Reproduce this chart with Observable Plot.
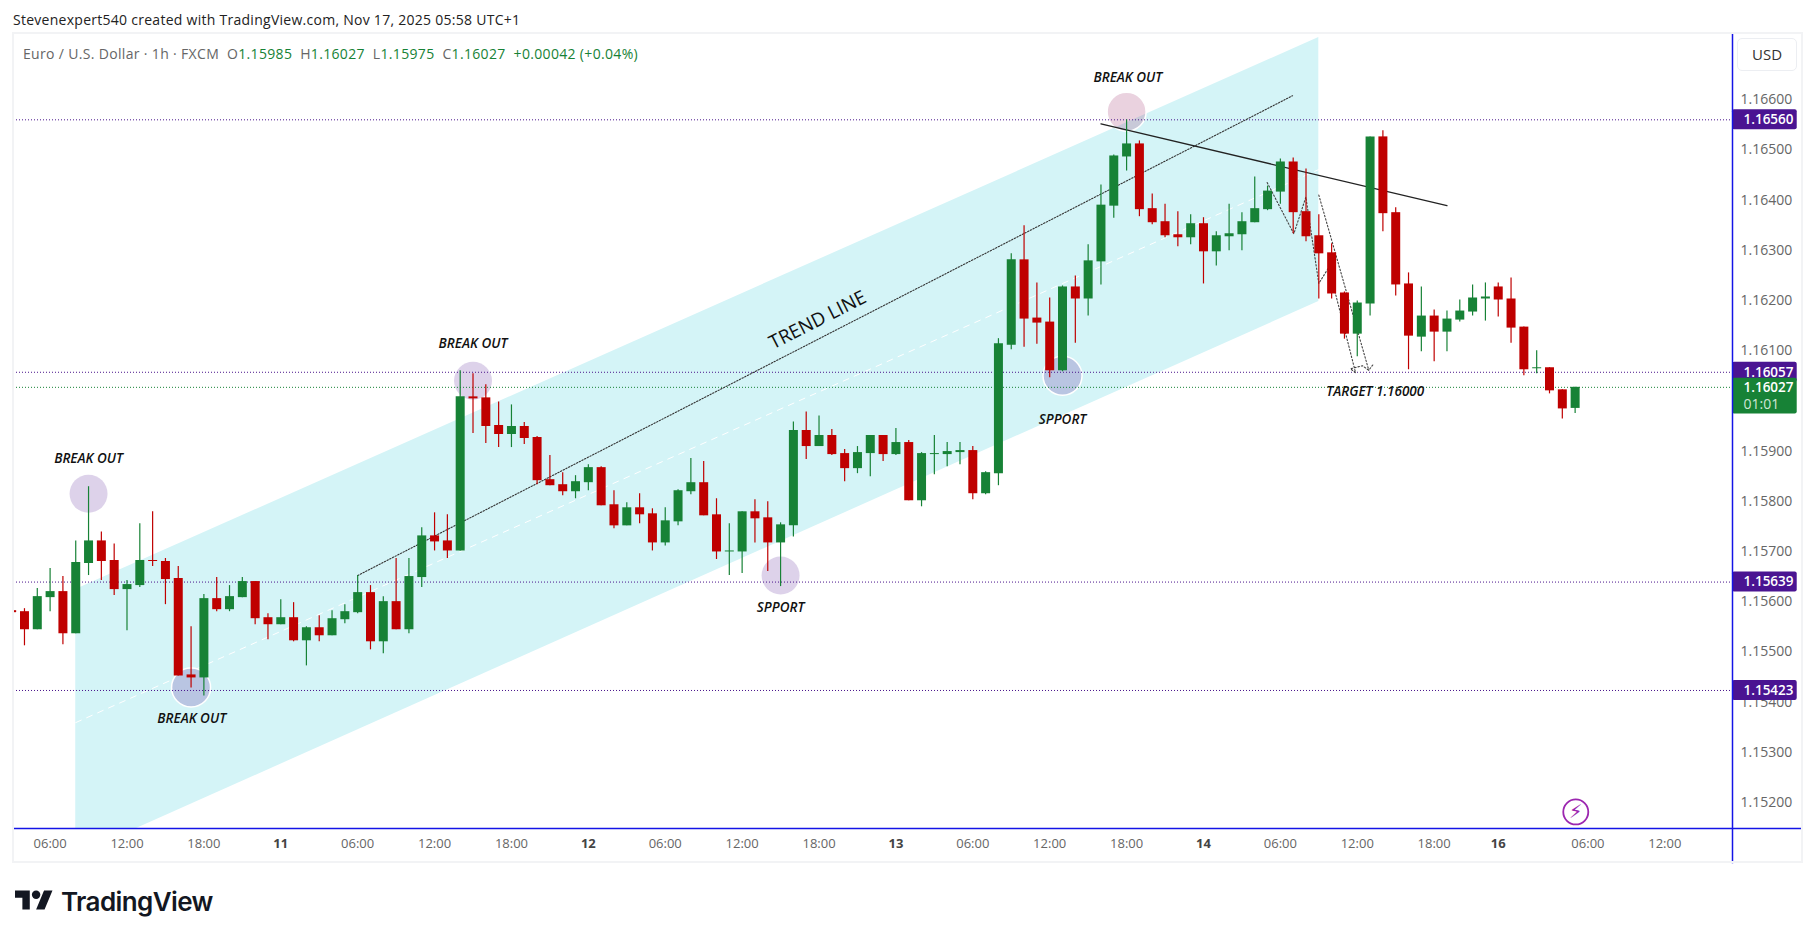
<!DOCTYPE html>
<html>
<head>
<meta charset="utf-8">
<script src="https://cdn.jsdelivr.net/npm/d3@7"></script>
<script src="https://cdn.jsdelivr.net/npm/@observablehq/plot@0.6"></script>
<style>
html,body{margin:0;padding:0;background:#fff;width:1815px;height:938px;overflow:hidden;font-family:"Open Sans",sans-serif}
#head{height:33px;position:relative}
#credit{position:absolute;left:13px;top:10px;font-size:14px;letter-spacing:.27px;color:#222;white-space:nowrap}
#legend{position:absolute;left:23px;top:44px;font-size:14px;letter-spacing:.33px;color:#666;white-space:pre;z-index:3}
#legend b{font-weight:400;color:#178236}
#frame{position:absolute;left:12px;top:32px;width:1787px;height:827px;border:2px solid #f2f3f5;pointer-events:none;z-index:2}
#usd{position:absolute;left:1737px;top:38px;width:60px;height:33px;box-sizing:border-box;border:1px solid #eceef2;border-radius:5px;font-size:15px;color:#333;line-height:31px;text-align:center;background:#fff;z-index:3}
#chart{display:block;line-height:0}
#foot{position:absolute;left:15px;top:886px;height:30px;display:flex;align-items:center;color:#131722}
#foot span{font-family:Inter,sans-serif;font-weight:600;font-size:26px;letter-spacing:-.6px;margin-left:8px}
</style>
</head>
<body>
<div id="head">
<div id="credit">Stevenexpert540 created with TradingView.com, Nov 17, 2025 05:58 UTC+1</div>
<div id="legend">Euro / U.S. Dollar · 1h · FXCM  O<b>1.15985</b>  H<b>1.16027</b>  L<b>1.15975</b>  C<b>1.16027</b>  <b>+0.00042 (+0.04%)</b></div>
</div>
<div id="frame"></div>
<div id="usd">USD</div>
<div id="chart"></div>
<div id="foot"><svg width="38" height="30" viewBox="0 0 36 28"><path fill="#131722" d="M14 22H7V11H0V4h14v18zM28 22h-8l7.5-18h8L28 22z"/><circle fill="#131722" cx="20" cy="8" r="4"/></svg><span>TradingView</span></div>
<script>
// Candle values in 1/100000 of a dollar. First bar has index -3 (06:00 of day 10 is index 0).
const firstBar = -3;
const rising = "RRGGRGGRRG"+"GRRRRGRGGR"+"RGRGRGGGRG"+"RGGRRGRRRG"+"RRRRGGRRGR"+"RGGGRRGGRR"+"GGRGRRGGRG"+"RGGGGRGGGR"+"RRGRGGGGRR"+"RRGRGGGGGG"+"RRRRRGGRRR"+"GRGGGGRRRG"+"RRG";
const bodyTops = [115582,115580,115610,115620,115620,115678,115721,115721,115682,115634,
115682,115682,115680,115646,115454,115606,115606,115610,115640,115640,
115568,115568,115568,115548,115548,115566,115580,115618,115618,115600,
115600,115650,115731,115731,115721,116008,116008,116006,115951,115949,
115949,115927,115843,115833,115839,115867,115867,115793,115787,115787,
115775,115761,115821,115837,115837,115773,115701,115779,115779,115767,
115753,115941,115941,115931,115931,115895,115897,115931,115931,115917,
115917,115895,115895,115899,115901,115901,115857,116114,116281,116281,
116165,116157,116227,116227,116279,116390,116488,116512,116512,116383,
116357,116331,116353,116353,116329,116333,116357,116383,116418,116476,
116476,116377,116329,116295,116215,116195,116526,116526,116375,116233,
116169,116169,116163,116179,116205,116207,116227,116203,116147,116066,
116066,116022,116027];
const bodyBottoms = [115578,115544,115544,115608,115536,115536,115676,115680,115624,115624,
115632,115680,115644,115452,115448,115448,115584,115584,115608,115566,
115554,115554,115522,115522,115532,115532,115564,115578,115520,115520,
115544,115544,115648,115719,115701,115701,116004,115949,115933,115933,
115925,115841,115831,115819,115819,115837,115791,115751,115751,115773,
115717,115717,115759,115819,115771,115699,115699,115699,115765,115717,
115717,115751,115909,115909,115893,115865,115865,115895,115893,115893,
115801,115801,115893,115893,115897,115815,115815,115855,116111,116163,
116155,116060,116060,116203,116203,116277,116388,116486,116381,116355,
116329,116325,116325,116297,116297,116327,116331,116355,116381,116416,
116375,116327,116293,116213,116133,116133,116193,116373,116231,116129,
116127,116137,116137,116161,116177,116203,116201,116145,116062,116064,
116020,115984,115985];
const highs = [115583,115586,115626,115666,115650,115721,115829,115739,115715,115642,
115755,115779,115686,115670,115550,115614,115648,115632,115648,115640,
115576,115604,115598,115550,115572,115582,115594,115652,115632,115610,
115686,115686,115747,115777,115773,116060,116054,116032,115998,115992,
115957,115929,115891,115857,115851,115873,115869,115821,115797,115815,
115785,115787,115823,115885,115879,115805,115755,115779,115803,115799,
115757,115958,115978,115970,115943,115903,115909,115931,115931,115945,
115921,115897,115931,115917,115917,115909,115859,116124,116293,116349,
116235,116205,116229,116249,116311,116430,116490,116560,116518,116412,
116392,116377,116371,116365,116337,116392,116375,116446,116428,116482,
116484,116462,116371,116313,116217,116199,116526,116538,116385,116255,
116227,116181,116179,116201,116231,116235,116235,116245,116147,116100,
116066,116022,116027];
const lows = [115577,115512,115544,115580,115514,115536,115652,115642,115612,115542,
115628,115670,115594,115452,115428,115412,115580,115580,115608,115554,
115524,115554,115520,115472,115520,115532,115556,115576,115504,115496,
115544,115536,115628,115701,115686,115701,115935,115915,115907,115907,
115913,115833,115831,115811,115805,115821,115791,115745,115751,115755,
115701,115711,115751,115813,115771,115684,115652,115656,115717,115660,
115630,115729,115883,115909,115891,115839,115855,115849,115879,115891,
115801,115789,115853,115869,115873,115803,115813,115831,116102,116107,
116113,116046,116058,116115,116169,116231,116364,116458,116367,116351,
116325,116307,116311,116233,116269,116299,116299,116355,116379,116392,
116333,116317,116203,116203,116123,116088,116169,116337,116209,116062,
116098,116078,116098,116157,116169,116159,116167,116115,116050,116054,
116014,115964,115975];

// Levels and ticks
const priceTicks = [1.152,1.153,1.154,1.155,1.156,1.157,1.158,1.159,1.161,1.162,1.163,1.164,1.165,1.166];
const levels = [1.1656,1.16057,1.15639,1.15423];
const lastPrice = 1.16027;
const countdown = "01:01";
const hourTicks = [0,6,12,24,30,36,48,54,60,72,78,84,96,102,108,120,126];
const hourLabels = ["06:00","12:00","18:00","06:00","12:00","18:00","06:00","12:00","18:00","06:00","12:00","18:00","06:00","12:00","18:00","06:00","12:00"];
const dayTicks = [18,42,66,90,113];
const dayLabels = ["11","12","13","14","16"];

// Drawings
const channelX = [2,99];
const channelLow = [1.15094,1.16198];
const channelHigh = [1.15624,1.16724];
const trendX = [24,96.95], trendP = [1.15652,1.16608];
const resistX = [82,109], resistP = [1.16552,1.16389];
const zigX = [94.97,97.05,97.99,99,99.78,101.87,101.47,102.4,102.9,103.25];
const zigP = [1.16435,1.16333,1.16406,1.16234,1.16266,1.16056,1.16064,1.1607,1.16061,1.16073];
const projX = [99,102.9], projP = [1.1641,1.16061];
const circleX = [3,33,57,84,11,79];
const circleP = [1.15815,1.1604,1.15652,1.16576,1.15429,1.1605];
const circleKind = ["purple","purple","purple","pink","blue","blue"];
const noteX = [3,11.05,33,84.1,57,79,103.4];
const noteP = [1.15885,1.15367,1.16114,1.16644,1.15587,1.15962,1.16018];
const noteText = ["BREAK OUT","BREAK OUT","BREAK OUT","BREAK OUT","SPPORT","SPPORT","TARGET 1.16000"];

const GREEN = "#178236", RED = "#bf0000", PURPLE = "#4a148c";
const bars = bodyTops.map((t,k)=>{
  const g = rising[k]==="G";
  return {i:firstBar+k,g,o:(g?bodyBottoms[k]:t)/1e5,c:(g?t:bodyBottoms[k])/1e5,h:highs[k]/1e5,l:lows[k]/1e5};
});
const channel = channelX.map((x,k)=>({x,lo:channelLow[k],hi:channelHigh[k],mid:(channelLow[k]+channelHigh[k])/2}));
const pts = (xs,ps)=>xs.map((x,k)=>({x,p:ps[k]}));
const circles = circleX.map((x,k)=>({x,p:circleP[k],kind:circleKind[k]}));
const notes = noteX.map((x,k)=>({x,p:noteP[k],t:noteText[k]}));
const pick = (ticks,labels)=>(v=>labels[ticks.indexOf(v)]);

const xMin=-2.856,xMax=131.28,xEdge=136.33,xFrame=136.7;
const yMin=1.15148,yMax=1.16732,yFoot=1.15078;
const NOTEFONT='"Open Sans",sans-serif';

const plot = Plot.plot({
  width:1815,height:830,
  marginLeft:13,marginRight:83,marginTop:0,marginBottom:35,
  style:{background:"transparent",fontFamily:'"Open Sans",sans-serif',overflow:"visible"},
  x:{domain:[xMin,xMax],axis:null},
  y:{domain:[yMin,yMax],axis:null},
  marks:[
    Plot.areaY(channel,{x:"x",y1:"lo",y2:"hi",fill:"#d4f4f7",clip:true}),
    Plot.line(channel,{x:"x",y:"mid",stroke:"#fff",strokeWidth:1,strokeDasharray:"6 6",clip:true}),
    Plot.dot(circles.filter(d=>d.kind==="purple"),{x:"x",y:"p",r:19,fill:"#8e6bb8",fillOpacity:.3}),
    Plot.dot(circles.filter(d=>d.kind==="pink"),{x:"x",y:"p",r:19.5,fill:"#a0306f",fillOpacity:.22,stroke:"#fff",strokeWidth:1.5}),
    Plot.dot(circles.filter(d=>d.kind==="blue"),{x:"x",y:"p",r:19.5,fill:"#b9c5e2",stroke:"#fff",strokeWidth:1.5}),
    Plot.ruleY(levels,{stroke:PURPLE,strokeWidth:1,strokeDasharray:"1 2"}),
    Plot.ruleY([lastPrice],{stroke:GREEN,strokeWidth:1,strokeDasharray:"1 2"}),
    Plot.line(pts(trendX,trendP),{x:"x",y:"p",stroke:"#333",strokeWidth:1.1,strokeDasharray:"1.4 1.6"}),
    Plot.line(pts(resistX,resistP),{x:"x",y:"p",stroke:"#222",strokeWidth:1.3}),
    Plot.line(pts(zigX,zigP),{x:"x",y:"p",stroke:"#444",strokeWidth:1.1,strokeDasharray:"1.5 2"}),
    Plot.line(pts(projX,projP),{x:"x",y:"p",stroke:"#444",strokeWidth:1.1,strokeDasharray:"1.5 2"}),
    Plot.ruleX(bars,{x:"i",y1:"l",y2:"h",stroke:d=>d.g?GREEN:RED,strokeWidth:1.2,clip:true}),
    Plot.ruleX(bars,{x:"i",y1:"o",y2:"c",stroke:d=>d.g?GREEN:RED,strokeWidth:9,clip:true}),
    Plot.text(notes,{x:"x",y:"p",text:"t",fontFamily:NOTEFONT,fontStyle:"italic",fontWeight:600,fontSize:13.5,letterSpacing:"1.4px",fill:"#111"}),
    Plot.text(["TREND LINE"],{x:[59.9],y:[1.16161],text:d=>d,rotate:-27,fontFamily:NOTEFONT,fontWeight:500,fontSize:19,fill:"#111",letterSpacing:"0.8px"}),
    Plot.dot([0],{x:[119.05],y:[1.15181],r:12.5,stroke:"#9c27b0",strokeWidth:1.8,fill:"#fff"}),
    Plot.text(["⚡"],{x:[119.05],y:[1.15181],text:d=>d,fontSize:19,fill:"#9c27b0",fontFamily:"DejaVu Sans"}),
    // price axis
    Plot.axisY(priceTicks,{anchor:"right",tickSize:0,tickPadding:8,tickFormat:d=>d.toFixed(5),fontSize:14,letterSpacing:"0.3px",fill:"#666",textAnchor:"start"}),
    // level tags
    Plot.rect(levels,{x1:xMax,x2:xEdge,y1:d=>d-0.0002,y2:d=>d+0.0002,fill:"#4a1492",rx:2}),
    Plot.text(levels,{x:xMax,y:d=>d,text:d=>d.toFixed(5),dx:11,textAnchor:"start",fill:"#fff",fontWeight:600,fontSize:13.5}),
    Plot.rect([lastPrice],{x1:xMax,x2:xEdge,y1:d=>d-0.00053,y2:d=>d+0.00018,fill:GREEN,rx:2}),
    Plot.text([lastPrice],{x:xMax,y:d=>d,text:d=>d.toFixed(5),dx:11,textAnchor:"start",fill:"#fff",fontWeight:600,fontSize:13.5}),
    Plot.text([lastPrice],{x:xMax,y:d=>d,text:()=>countdown,dx:11,dy:17,textAnchor:"start",fill:"#cfe6d6",fontSize:14}),
    // time axis
    Plot.axisX(hourTicks,{tickSize:0,tickPadding:10,tickFormat:pick(hourTicks,hourLabels),fontSize:13,fill:"#666"}),
    Plot.axisX(dayTicks,{tickSize:0,tickPadding:10,tickFormat:pick(dayTicks,dayLabels),fontSize:13,fontWeight:700,fill:"#444"}),
    // blue borders
    Plot.ruleY([yMin],{x1:xMin,x2:xFrame,stroke:"#1414e6",strokeWidth:1.5}),
    Plot.ruleX([xMax],{y1:yFoot,y2:yMax,stroke:"#1414e6",strokeWidth:1.5})
  ]
});
document.getElementById("chart").append(plot);
</script>
</body>
</html>
